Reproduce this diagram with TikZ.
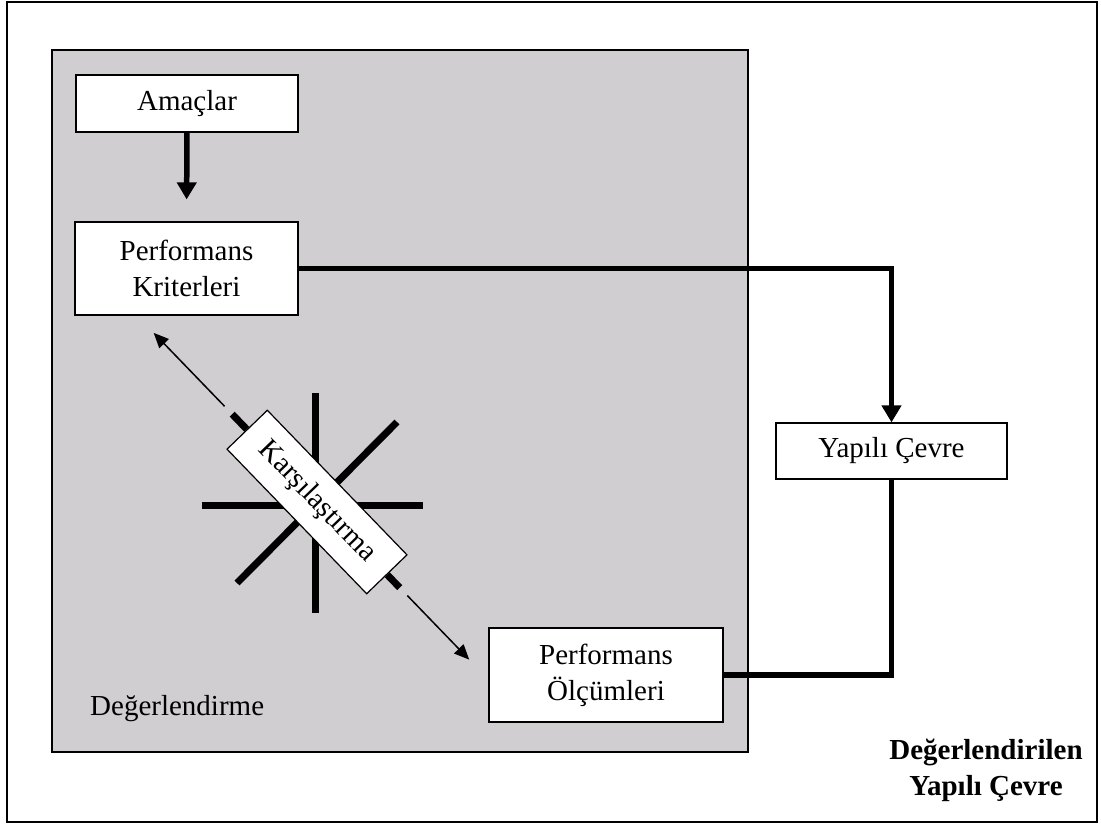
\documentclass[tikz,border=0pt]{standalone}
\usepackage{fontspec}
\setmainfont{Liberation Serif}
\usetikzlibrary{arrows.meta,calc}
\definecolor{panelgray}{RGB}{208,206,208}
\newcommand{\fsz}{\fontsize{29}{36}\selectfont}
\begin{document}
\begin{tikzpicture}[x=1pt,y=1pt,
 box/.style={draw, fill=white, line width=1.2pt, inner sep=0pt, align=center, font=\fsz},
 bigarrow/.style={line width=5.5pt, -{Triangle[length=17pt,width=19pt]}},
 bigline/.style={line width=5.5pt},
 ray/.style={line width=7pt},
 smallarrow/.style={line width=1.5pt, -{Triangle[length=15pt,width=13pt]}},
 lbl/.style={inner sep=0pt, font=\fsz}
]
\useasboundingbox (0,0) rectangle (1101,-825);
\draw[line width=1.5pt] (7,-2) rectangle (1097,-822);
\node[draw, fill=panelgray, line width=1.5pt, minimum width=696pt, minimum height=702pt, inner sep=0pt, anchor=north west] (panel) at (51,-49) {};

% star
\coordinate (sc) at (315,-505);
\draw[ray] (315,-393) -- (315,-613);
\draw[ray] (202,-505) -- (423,-505);
\draw[ray] (397,-422) -- (237,-583);

% boxes
\node[box, minimum width=222pt, minimum height=57pt] (am) at (187,-103.5) {Amaçlar};
\node[box, minimum width=223pt, minimum height=93pt] (pk) at (186.5,-268.5) {Performans\\Kriterleri};
\node[box, minimum width=231pt, minimum height=56pt] (yc) at (891.5,-451) {Yapılı Çevre};
\node[box, minimum width=234pt, minimum height=94pt] (po) at (606,-675) {Performans\\Ölçümleri};
\node[box, minimum width=201pt, minimum height=56pt, rotate=-46] (kar) at (317,-502) {Karşılaştırma};

% connectors
\draw[bigarrow, shorten >=22pt] (am.south) -- (pk.north);
\draw[bigarrow] (pk.east) -| (yc.north);
\draw[bigline] (yc.south) |- (po.east);

% comparison axis
\draw[ray] (kar.west) -- ($(kar.west)!-21pt!(kar.east)$);
\draw[ray] (kar.east) -- ($(kar.east)!-18pt!(kar.west)$);
\coordinate (a1s) at ($(kar.west)!-32pt!(kar.east)$);
\coordinate (a1e) at ($(kar.west)!-134pt!(kar.east)$);
\coordinate (a2s) at ($(kar.east)!-29pt!(kar.west)$);
\coordinate (a2e) at ($(kar.east)!-118pt!(kar.west)$);
\draw[smallarrow] (a1s) -- (a1e);
\draw[smallarrow] (a2s) -- (a2e);

% labels
\node[lbl, anchor=base west] (deg) at (90,-715) {Değerlendirme};
\node[lbl, anchor=base, font=\fsz\bfseries] (t1) at (986,-759) {Değerlendirilen};
\node[lbl, anchor=base, font=\fsz\bfseries] (t2) at (986,-795) {Yapılı Çevre};
\end{tikzpicture}
\end{document}
